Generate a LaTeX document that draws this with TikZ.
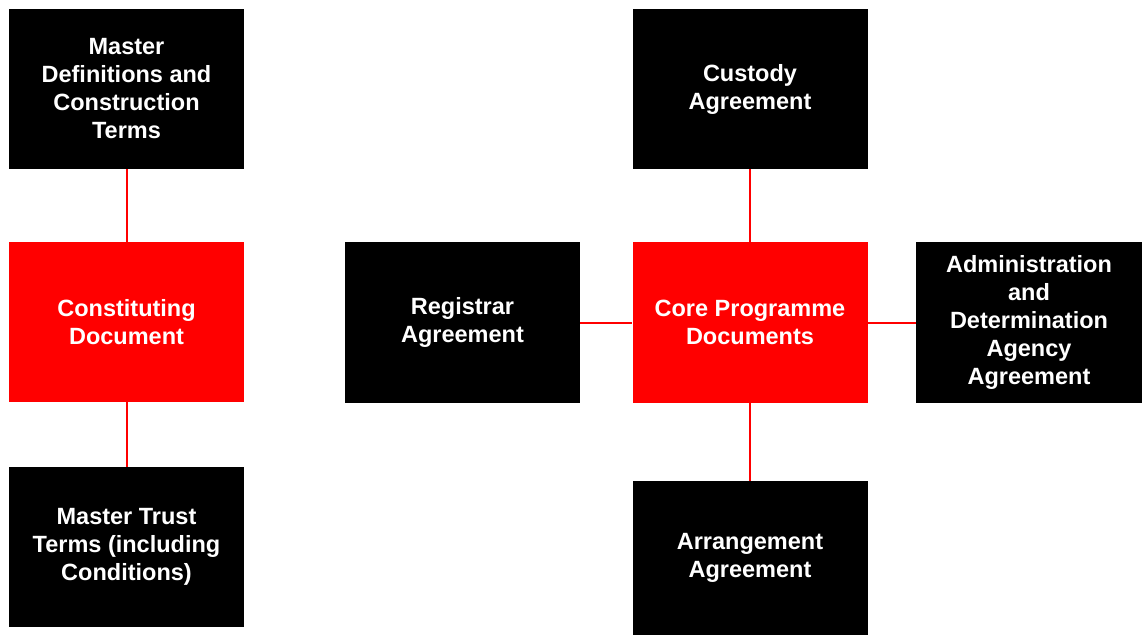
\documentclass[tikz,border=0pt]{standalone}
\usepackage{fontspec}
\setmainfont{Liberation Sans}
\usetikzlibrary{positioning}
\tikzset{
docbox/.style={
  rectangle,
  fill=black,
  text=white,
  font=\bfseries\fontsize{23.5pt}{28pt}\selectfont,
  align=center,
  inner sep=0pt,
  minimum width=235pt,
  minimum height=160pt
  },
  corebox/.style={docbox,fill=red},
  link/.style={draw=red,line width=2pt}
}
\begin{document}
\begin{tikzpicture}[x=1pt,y=-1pt]
\useasboundingbox (0,0) rectangle (1142,635);

% left column
\node[docbox] (mdct) at (126.5,89) {Master\\Definitions and\\Construction\\Terms};
\node[corebox] (cdoc) at (126.5,322) {Constituting\\Document};
\node[docbox] (mtt) at (126.5,547) {Master Trust\\Terms (including\\Conditions)};

% core programme documents
\node[corebox,minimum height=161pt] (core) at (750,322.5) {Core Programme\\Documents};
\node[docbox] (cust) at (750,89) {Custody\\Agreement};
\node[docbox,minimum height=161pt] (reg) at (462.5,322.5) {Registrar\\Agreement};
\node[docbox,minimum width=226pt,minimum height=161pt] (adda) at (1029,322.5)
  {Administration\\and\\Determination\\Agency\\Agreement};
\node[docbox,minimum height=154pt] (arr) at (750,558) {Arrangement\\Agreement};

\begin{scope}
\draw[link] (mdct.south) -- (cdoc.north);
\draw[link] (cdoc.south) -- (mtt.north);
\draw[link] (cust.south) -- (core.north);
\draw[link] (core.south) -- (arr.north);
\draw[link] (reg.east) -- (core.west);
\draw[link] (core.east) -- (adda.west);
\end{scope}
\end{tikzpicture}
\end{document}
